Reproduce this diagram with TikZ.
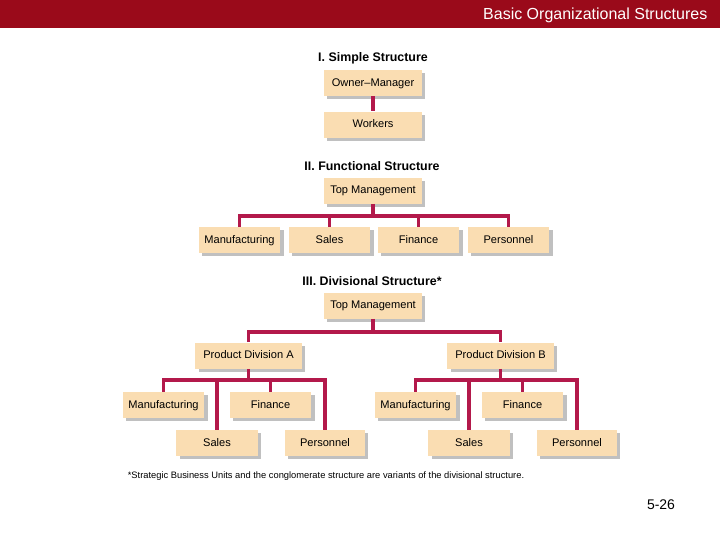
\documentclass[tikz,border=0pt]{standalone}
\usepackage{fontspec}
\setmainfont{Liberation Sans}
\usetikzlibrary{shadows}
\definecolor{bar}{HTML}{9A0A1A}
\definecolor{peach}{HTML}{FADDB2}
\definecolor{link}{HTML}{B3194B}
\begin{document}
\begin{tikzpicture}[x=0.75pt,y=-0.75pt,
  bx/.style={fill=peach,draw=none,minimum height=19.5pt,inner sep=0pt,text height=6pt,text depth=1.5pt,font=\fontsize{8.3}{9}\selectfont,
    drop shadow={shadow xshift=2.5pt,shadow yshift=-2.5pt,fill=black!35,opacity=.7}},
  ttl/.style={font=\bfseries\fontsize{9.3}{10}\selectfont},
  ln/.style={draw=link,line width=2.8pt}]
\useasboundingbox (0,0) rectangle (720,540);
\fill[white] (0,0) rectangle (720,540);
\fill[bar] (0,0) rectangle (720,28);
\node[anchor=east,text=white,font=\fontsize{12}{14}\selectfont] (hdr) at (712,15) {Basic Organizational Structures};
% connectors
\path (373,83) coordinate (c1);
% I
\node[ttl] (t1) at (373,58) {I. Simple Structure};
\node[bx,minimum width=73.5pt] (om) at (373,83) {Owner--Manager};
\node[bx,minimum width=73.5pt] (wk) at (373,124.5) {Workers};
% II
\node[ttl] (t2) at (372,166) {II. Functional Structure};
\node[bx,minimum width=73.5pt] (tm2) at (373,190.5) {Top Management};
\foreach \n/\x/\t in {fm/239.5/Manufacturing,fs/329.5/Sales,ff/418.5/Finance,fp/508.5/Personnel}
  \node[bx,minimum width=61pt] (\n) at (\x,240) {\t};
% III
\node[ttl] (t3) at (372,281) {III. Divisional Structure*};
\node[bx,minimum width=73.5pt] (tm3) at (373,305.5) {Top Management};
\node[bx,minimum width=80pt] (da) at (248.5,355.5) {Product Division A};
\node[bx,minimum width=80pt] (db) at (500.5,355.5) {Product Division B};
\foreach \s/\o in {a/0,b/252}{
  \node[bx,minimum width=61pt] (m\s) at (163.5+\o,405) {Manufacturing};
  \node[bx,minimum width=61pt] (f\s) at (270.5+\o,405) {Finance};
  \node[bx,minimum width=61pt] (s\s) at (217+\o,443) {Sales};
  \node[bx,minimum width=60pt] (p\s) at (325+\o,443) {Personnel};
}
\node[font=\fontsize{7}{8}\selectfont] (fn) at (326,476) {*Strategic Business Units and the conglomerate structure are variants of the divisional structure.};
\node[font=\fontsize{10.5}{12}\selectfont] (pg) at (661,505) {5-26};
\draw[ln] (om.south) -- (wk.north);
\draw[ln] (tm2.south) -- ++(0,13);
\draw[ln] (fm.north) |- (fp.north |- 0,216) -- (fp.north);
\draw[ln] (fs.north) -- (fs.north |- 0,216);
\draw[ln] (ff.north) -- (ff.north |- 0,216);
\draw[ln] (tm3.south) -- ++(0,14);
\draw[ln] (da.north) |- (db.north |- 0,332) -- (db.north);
\foreach \s/\d in {a/da,b/db}{
  \draw[ln] (\d.south) -- ++(0,12);
  \draw[ln] (m\s.north) |- (p\s.north |- 0,380) -- (p\s.north);
  \draw[ln] (s\s.north) -- (s\s.north |- 0,380);
  \draw[ln] (f\s.north) -- (f\s.north |- 0,380);
}
\end{tikzpicture}
\end{document}
